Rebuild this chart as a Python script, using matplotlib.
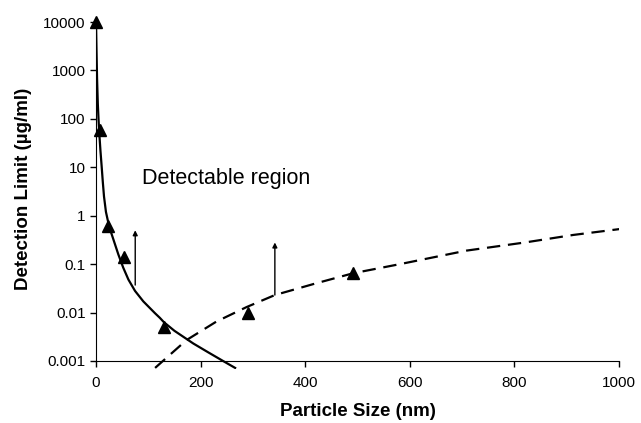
import matplotlib
matplotlib.use("Agg")
import matplotlib.pyplot as plt
from matplotlib.ticker import FixedLocator, FixedFormatter, NullLocator

plt.rcParams['font.family'] = ['Liberation Sans', 'DejaVu Sans']

# measured points (triangles)
pts_x = [0, 7, 22, 54, 130, 290, 492]
pts_y = [10000, 58, 0.6, 0.14, 0.005, 0.0097, 0.066]

# solid fit curve (small particles)
solid_x = [0, 1, 2, 3.5, 5, 6.3, 8.5, 10.8, 13, 15.3, 19, 23.5, 28, 33, 42.6, 52, 62,
           74.6, 90.5, 112.8, 122, 130, 150, 186, 215, 243, 266]
solid_y = [10000, 2500, 700, 200, 90, 50, 22, 10.5, 5, 2.5, 1.2, 0.72, 0.48, 0.33, 0.16,
           0.085, 0.048, 0.028, 0.017, 0.0097, 0.0078, 0.0063, 0.0042, 0.0023, 0.0015, 0.001, 0.00072]

# dashed fit curve (large particles)
dash_x = [113, 173, 230, 288, 342, 420, 492, 581, 708, 820, 912, 1013]
dash_y = [0.00072, 0.0027, 0.0065, 0.013, 0.023, 0.04, 0.065, 0.1, 0.19, 0.28, 0.4, 0.55]

# arrows: x, start y, end y
arrows = [(75, 0.037, 0.5), (342, 0.023, 0.28)]

yticks = [0.001, 0.01, 0.1, 1, 10, 100, 1000, 10000]
ylabels = ['0.001', '0.01', '0.1', '1', '10', '100', '1000', '10000']

fig = plt.figure(figsize=(6.41, 4.23), dpi=100)
ax = fig.add_axes([96/641, 54.5/423, 523/641, 346.5/423])

ax.plot(solid_x, solid_y, color='black', lw=1.6)
ax.plot(dash_x, dash_y, color='black', lw=1.6, dashes=(6, 3.5))
ax.plot(pts_x, pts_y, '^', color='black', ms=9, clip_on=False, zorder=5)

for x, y0, y1 in arrows:
    ax.annotate('', xy=(x, y1), xytext=(x, y0),
                arrowprops=dict(arrowstyle='-|>', color='black', lw=1,
                                mutation_scale=7, shrinkA=0, shrinkB=0))

ax.text(87, 5.9, 'Detectable region', fontsize=15.5, va='center', ha='left')

ax.set_yscale('log')
ax.set_xlim(0, 1000)
ax.set_ylim(0.0007, 10000)
ax.yaxis.set_major_locator(FixedLocator(yticks))
ax.yaxis.set_major_formatter(FixedFormatter(ylabels))
ax.yaxis.set_minor_locator(NullLocator())
ax.set_xticks([0, 200, 400, 600, 800, 1000])

ax.spines['top'].set_visible(False)
ax.spines['right'].set_visible(False)
ax.spines['bottom'].set_position(('data', 0.001))
ax.spines['left'].set_bounds(0.001, 10000)
ax.tick_params(direction='out', length=4, width=1, labelsize=11)
ax.tick_params(axis='x', pad=7)

ax.set_xlabel('Particle Size (nm)', fontsize=13.5, fontweight='bold')
ax.set_ylabel('Detection Limit (µg/ml)', fontsize=13.5, fontweight='bold')
ax.xaxis.set_label_coords(0.5, -0.0996)
ax.yaxis.set_label_coords(-0.122, 0.518)

fig.savefig('out.png', dpi=100)
